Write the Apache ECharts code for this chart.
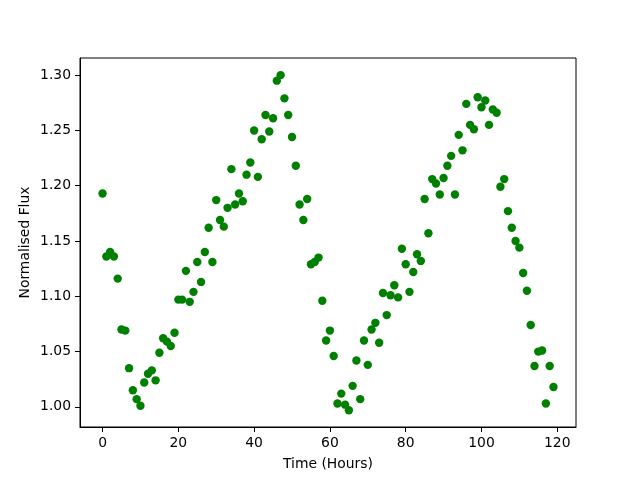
<!DOCTYPE html>
<html>
<head>
<meta charset="utf-8">
<script src="https://cdn.jsdelivr.net/npm/echarts@6/dist/echarts.min.js"></script>
<style>
  html, body { margin: 0; padding: 0; background: #fff; }
  #chart { width: 640px; height: 480px; }
</style>
</head>
<body>
<div id="chart"></div>
<script>
// hourly normalised flux readings, hour 0 .. 119
const hours = Array.from({ length: 120 }, (_, i) => i);
const flux = [
  1.193, 1.136, 1.140, 1.136, 1.116, 1.070, 1.069, 1.035, 1.015, 1.007,
  1.001, 1.022, 1.030, 1.033, 1.024, 1.049, 1.062, 1.059, 1.055, 1.067,
  1.097, 1.097, 1.123, 1.095, 1.104, 1.131, 1.113, 1.140, 1.162, 1.131,
  1.187, 1.169, 1.163, 1.180, 1.215, 1.183, 1.193, 1.186, 1.210, 1.221,
  1.250, 1.208, 1.242, 1.264, 1.249, 1.261, 1.295, 1.300, 1.279, 1.264,
  1.244, 1.218, 1.183, 1.169, 1.188, 1.129, 1.131, 1.135, 1.096, 1.060,
  1.069, 1.046, 1.003, 1.012, 1.002, 0.997, 1.019, 1.042, 1.007, 1.060,
  1.038, 1.070, 1.076, 1.058, 1.103, 1.083, 1.101, 1.110, 1.099, 1.143,
  1.129, 1.104, 1.122, 1.138, 1.132, 1.188, 1.157, 1.206, 1.202, 1.192,
  1.207, 1.218, 1.227, 1.192, 1.246, 1.232, 1.274, 1.255, 1.251, 1.280,
  1.271, 1.277, 1.255, 1.269, 1.266, 1.199, 1.206, 1.177, 1.162, 1.150,
  1.144, 1.121, 1.105, 1.074, 1.037, 1.050, 1.051, 1.003, 1.037, 1.018
];
const xTicks = [0, 20, 40, 60, 80, 100, 120];
const yTicks = [1.00, 1.05, 1.10, 1.15, 1.20, 1.25, 1.30];

const chart = echarts.init(document.getElementById("chart"));
const font = "DejaVu Sans";

const option = {
  animation: false,
  grid: {
    left: 80,
    right: 64,
    top: 58,
    bottom: 53,
    show: true,
    borderColor: "#000",
    borderWidth: 1,
  },
  xAxis: {
    type: "value",
    min: -5.95,
    max: 124.95,
    name: "Time (Hours)",
    nameLocation: "middle",
    nameGap: 30,
    nameTextStyle: { color: "#000", fontFamily: font, fontSize: 13.9 },
    axisLine: { show: true, onZero: false, lineStyle: { color: "#000", width: 1 } },
    splitLine: { show: false },
    axisTick: {
      show: true,
      inside: false,
      length: 5,
      customValues: xTicks,
      lineStyle: { color: "#000" },
    },
    axisLabel: {
      customValues: xTicks,
      margin: 9,
      color: "#000",
      fontFamily: font,
      fontSize: 13.9,
    },
  },
  yAxis: {
    type: "value",
    min: 0.9818,
    max: 1.3155,
    name: "Normalised Flux",
    nameLocation: "middle",
    nameGap: 48,
    nameMoveOverlap: false,
    nameTextStyle: { color: "#000", fontFamily: font, fontSize: 13.9 },
    axisLine: { show: true, onZero: false, lineStyle: { color: "#000", width: 1 } },
    splitLine: { show: false },
    axisTick: {
      show: true,
      inside: false,
      length: 5,
      customValues: yTicks,
      lineStyle: { color: "#000" },
    },
    axisLabel: {
      customValues: yTicks,
      margin: 9,
      color: "#000",
      fontFamily: font,
      fontSize: 13.9,
      formatter: (v) => v.toFixed(2),
    },
  },
  series: [
    {
      type: "scatter",
      data: hours.map((h, i) => [h, flux[i]]),
      symbol: "circle",
      symbolSize: 8.4,
      itemStyle: { color: "#008000", opacity: 1 },
    },
  ],
};

chart.setOption(option);
</script>
</body>
</html>
